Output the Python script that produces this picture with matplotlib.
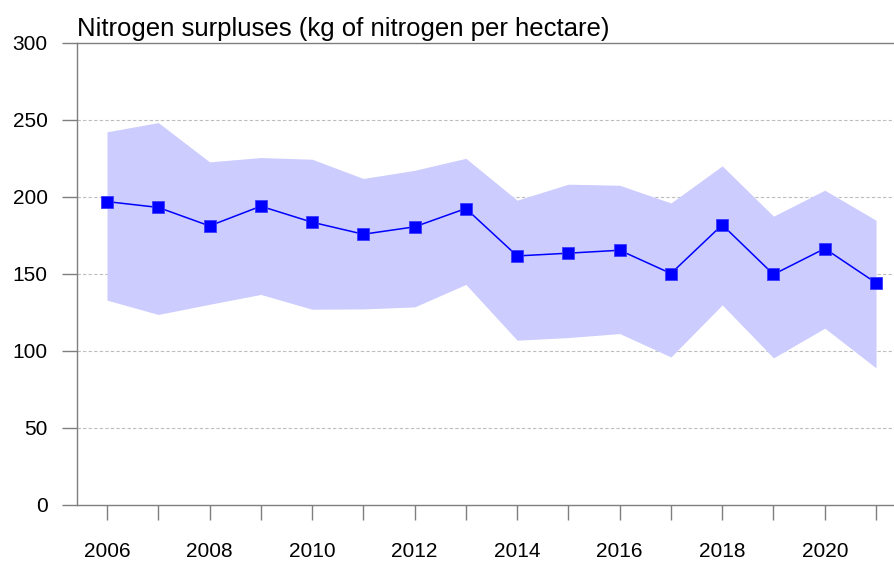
import matplotlib
matplotlib.use("Agg")
import matplotlib.pyplot as plt

plt.rcParams["font.family"] = ["Liberation Sans", "DejaVu Sans"]

years = list(range(2006, 2022))
mean = [196.7, 192.9, 180.9, 193.7, 183.3, 175.5, 180.3, 192.2,
        161.4, 163.2, 165.1, 150.0, 181.6, 149.4, 166.2, 143.9]
upper = [242.0, 248.0, 222.5, 225.3, 224.2, 211.7, 217.0, 224.8,
         197.6, 208.0, 207.3, 195.8, 219.9, 187.2, 204.1, 184.6]
lower = [132.7, 123.4, 130.0, 136.4, 126.8, 127.0, 128.3, 142.9,
         106.7, 108.4, 111.0, 95.8, 129.6, 95.2, 114.5, 88.7]
yticks = [0, 50, 100, 150, 200, 250, 300]
xlabel_years = list(range(2006, 2022, 2))

W, H = 895, 562
fig = plt.figure(figsize=(W / 100, H / 100), dpi=100)
ax = fig.add_axes([77 / W, 1 - 504.5 / H, 1 - 77 / W, (504.5 - 42.5) / H])

ax.fill_between(years, lower, upper, color="#ccccff", linewidth=0, zorder=1)
ax.plot(years, mean, color="#0000ff", lw=1.1, marker="s", ms=8,
        mfc="#0000ff", mec="#3a3aff", mew=0.6, zorder=3)

ax.set_xlim(2005.415, 2021.37)
ax.set_ylim(0, 300)

ax.set_yticks(yticks)
ax.set_xticks(years)
ax.set_xticklabels([str(y) if y in xlabel_years else "" for y in years])

for y in yticks[1:-1]:
    ax.axhline(y, color="#bdbdbd", lw=0.8, ls=(0, (3, 2)), zorder=0)

gray = "#7f7f7f"
for side in ["left", "top", "bottom"]:
    ax.spines[side].set_color(gray)
    ax.spines[side].set_linewidth(1.0)
ax.spines["right"].set_visible(False)

ax.tick_params(axis="y", length=11, width=1.0, color=gray, pad=10,
               labelsize=15, labelcolor="black")
ax.tick_params(axis="x", length=11, width=1.0, color=gray, pad=16,
               labelsize=15, labelcolor="black")

ax.set_title("Nitrogen surpluses (kg of nitrogen per hectare)", loc="left",
             fontsize=18.5, pad=5)

fig.savefig("out.png", dpi=100)
